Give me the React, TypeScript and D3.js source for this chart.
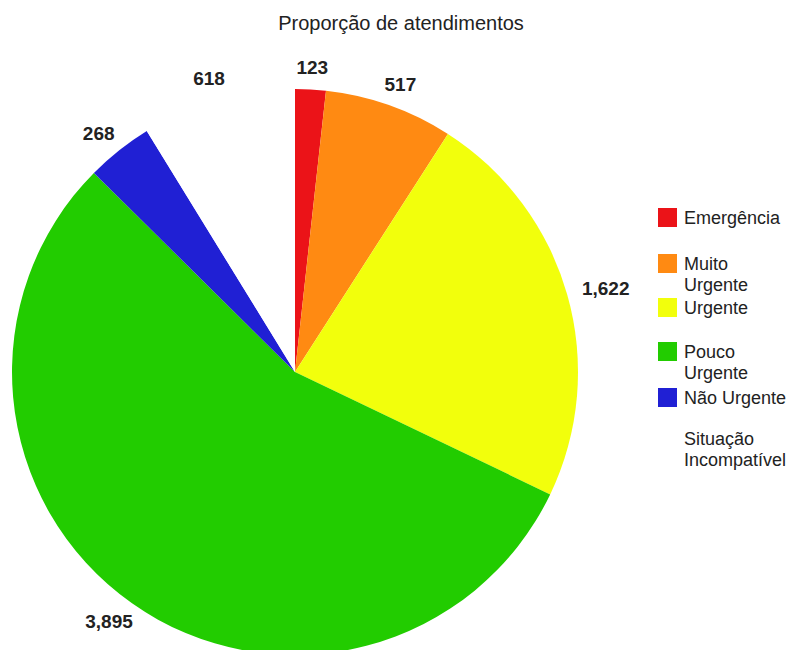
import React from "react";
import * as d3 from "d3";

const categories = ["Emergência", "Muito Urgente", "Urgente", "Pouco Urgente", "Não Urgente", "Situação Incompatível"];
const legendLines = [["Emergência"], ["Muito", "Urgente"], ["Urgente"], ["Pouco", "Urgente"], ["Não Urgente"], ["Situação", "Incompatível"]];
const values = [123, 517, 1622, 3895, 268, 618];
const colors = ["#eb1318", "#ff8a12", "#f2ff0c", "#22cc00", "#2020d4", "#ffffff"];
const title = "Proporção de atendimentos";

export default function App() {
  const W = 793, H = 650;
  const cx = 295, cy = 372, r = 283;
  const pie = d3.pie<number>().sort(null).value((d) => d);
  const arcs = pie(values);
  const arc = d3.arc<d3.PieArcDatum<number>>().innerRadius(0).outerRadius(r);
  const fmt = d3.format(",");
  const legendBase = [224, 270, 314, 358, 404, 445];
  const labelSize = 19;
  return (
    <svg width={W} height={H} style={{ position: "absolute", left: 0, top: 0, background: "#fff" }} fontFamily="Liberation Sans, Arial, sans-serif">
      <text x={401} y={30} textAnchor="middle" fontSize={20} fill="#222">{title}</text>
      <g transform={`translate(${cx},${cy})`}>
        {arcs.map((a, i) => (
          <path key={i} d={arc(a) || ""} fill={colors[i]} />
        ))}
        {arcs.map((a, i) => {
          const m = (a.startAngle + a.endAngle) / 2;
          const label = fmt(values[i]);
          const hw = label.length * labelSize * 0.27;
          const R = 305;
          const s = Math.sin(m);
          const x = s * R + s * hw * 0.7;
          const y = -Math.cos(m) * R;
          return (
            <text key={i} x={x} y={y} textAnchor="middle" dominantBaseline="central" fontSize={labelSize} fontWeight="bold" fill="#222">{label}</text>
          );
        })}
      </g>
      <g>
        {legendLines.map((lines, i) => (
          <g key={i}>
            {i < 5 && <rect x={658} y={legendBase[i] - 16} width={19} height={19} fill={colors[i]} />}
            {lines.map((t, j) => (
              <text key={j} x={684} y={legendBase[i] + j * 21} fontSize={18} fill="#222">{t}</text>
            ))}
          </g>
        ))}
      </g>
    </svg>
  );
}
